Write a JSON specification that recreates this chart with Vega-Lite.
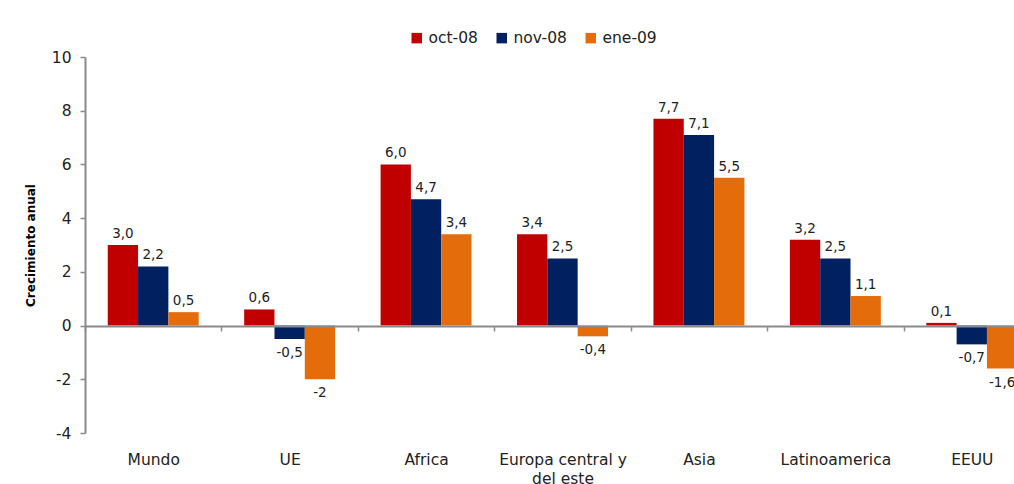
{
  "$schema": "https://vega.github.io/schema/vega-lite/v6.json",
  "autosize": {"type": "none"},
  "width": 929,
  "height": 376,
  "padding": {"left": 85, "top": 57, "right": 0, "bottom": 51},
  "background": "white",
  "config": {
    "font": "DejaVu Sans",
    "view": {"stroke": null},
    "axis": {"labelColor": "#222222", "titleColor": "#000000"}
  },
  "data": {
    "values": [
      {"region": "Mundo", "serie": "oct-08", "value": 3.0, "label": "3,0"},
      {"region": "Mundo", "serie": "nov-08", "value": 2.2, "label": "2,2"},
      {"region": "Mundo", "serie": "ene-09", "value": 0.5, "label": "0,5"},
      {"region": "UE", "serie": "oct-08", "value": 0.6, "label": "0,6"},
      {"region": "UE", "serie": "nov-08", "value": -0.5, "label": "-0,5"},
      {"region": "UE", "serie": "ene-09", "value": -2.0, "label": "-2"},
      {"region": "Africa", "serie": "oct-08", "value": 6.0, "label": "6,0"},
      {"region": "Africa", "serie": "nov-08", "value": 4.7, "label": "4,7"},
      {"region": "Africa", "serie": "ene-09", "value": 3.4, "label": "3,4"},
      {"region": "Europa central y del este", "serie": "oct-08", "value": 3.4, "label": "3,4"},
      {"region": "Europa central y del este", "serie": "nov-08", "value": 2.5, "label": "2,5"},
      {"region": "Europa central y del este", "serie": "ene-09", "value": -0.4, "label": "-0,4"},
      {"region": "Asia", "serie": "oct-08", "value": 7.7, "label": "7,7"},
      {"region": "Asia", "serie": "nov-08", "value": 7.1, "label": "7,1"},
      {"region": "Asia", "serie": "ene-09", "value": 5.5, "label": "5,5"},
      {"region": "Latinoamerica", "serie": "oct-08", "value": 3.2, "label": "3,2"},
      {"region": "Latinoamerica", "serie": "nov-08", "value": 2.5, "label": "2,5"},
      {"region": "Latinoamerica", "serie": "ene-09", "value": 1.1, "label": "1,1"},
      {"region": "EEUU", "serie": "oct-08", "value": 0.1, "label": "0,1"},
      {"region": "EEUU", "serie": "nov-08", "value": -0.7, "label": "-0,7"},
      {"region": "EEUU", "serie": "ene-09", "value": -1.6, "label": "-1,6"}
    ]
  },
  "encoding": {
    "x": {
      "field": "region",
      "type": "nominal",
      "sort": ["Mundo", "UE", "Africa", "Europa central y del este", "Asia", "Latinoamerica", "EEUU"],
      "scale": {"range": [0, 955], "paddingInner": 0, "paddingOuter": 0},
      "axis": {
        "title": null,
        "orient": "bottom",
        "offset": -107,
        "labelAngle": 0,
        "labelFontSize": 15.5,
        "labelPadding": 121,
        "labelLineHeight": 19,
        "labelExpr": "datum.value == 'Europa central y del este' ? ['Europa central y', 'del este'] : datum.label",
        "tickBand": "extent",
        "tickSize": 5,
        "tickColor": "#8a8a8a",
        "tickWidth": 1.5,
        "domainColor": "#8a8a8a",
        "domainWidth": 2,
        "grid": false,
        "zindex": 1
      }
    },
    "xOffset": {
      "field": "serie",
      "type": "nominal",
      "sort": ["oct-08", "nov-08", "ene-09"],
      "scale": {"paddingInner": 0, "paddingOuter": 0.75}
    },
    "y": {
      "field": "value",
      "type": "quantitative",
      "scale": {"domain": [-4, 10], "nice": false, "zero": false},
      "axis": {
        "title": "Crecimiento anual",
        "titleFontSize": 12,
        "titleFontWeight": "bold",
        "titlePadding": 14,
        "values": [-4, -2, 0, 2, 4, 6, 8, 10],
        "labelExpr": "toString(datum.value)",
        "labelFontSize": 15.5,
        "labelPadding": 9,
        "tickSize": 5,
        "tickColor": "#8a8a8a",
        "tickWidth": 1.5,
        "domainColor": "#8a8a8a",
        "domainWidth": 2,
        "grid": false
      }
    }
  },
  "layer": [
    {
      "mark": {"type": "bar"},
      "encoding": {
        "color": {
          "field": "serie",
          "type": "nominal",
          "sort": ["oct-08", "nov-08", "ene-09"],
          "scale": {"domain": ["oct-08", "nov-08", "ene-09"], "range": ["#C00000", "#00205F", "#E46C0A"]},
          "legend": {
            "title": null,
            "orient": "none",
            "legendX": 324,
            "legendY": -27,
            "direction": "horizontal",
            "symbolType": "square",
            "symbolSize": 110,
            "symbolStrokeWidth": 0,
            "labelFontSize": 15.5,
            "labelColor": "#222222",
            "labelOffset": 4,
            "columnPadding": 16,
            "padding": 0
          }
        }
      }
    },
    {
      "transform": [{"filter": "datum.value >= 0"}],
      "mark": {"type": "text", "baseline": "bottom", "dy": -4, "fontSize": 13.5, "color": "#222222"},
      "encoding": {"text": {"field": "label", "type": "nominal"}}
    },
    {
      "transform": [{"filter": "datum.value < 0"}],
      "mark": {"type": "text", "baseline": "top", "dy": 7, "fontSize": 13.5, "color": "#222222"},
      "encoding": {"text": {"field": "label", "type": "nominal"}}
    }
  ]
}
